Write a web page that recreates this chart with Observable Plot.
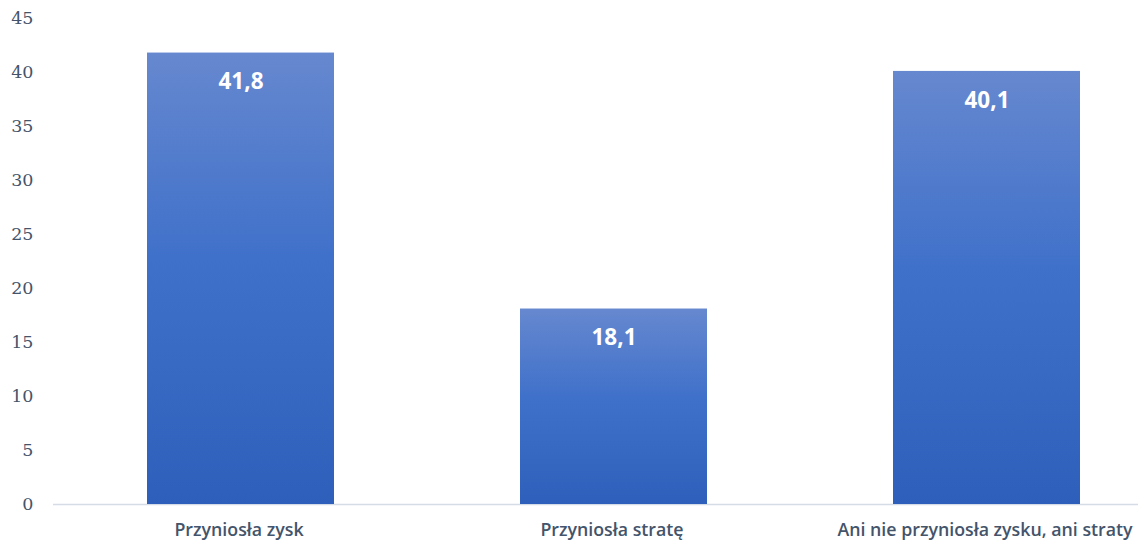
<!DOCTYPE html>
<html><head><meta charset="utf-8">
<script src="https://cdn.jsdelivr.net/npm/d3@7"></script>
<script src="https://cdn.jsdelivr.net/npm/@observablehq/plot@0.6"></script>
<style>
html,body{margin:0;padding:0;background:#fff;overflow:hidden;}
#chart{width:1138px;height:544px;overflow:hidden;}
</style></head>
<body><div id="chart"></div>
<script>
const categories = ["Przyniosła zysk", "Przyniosła stratę", "Ani nie przyniosła zysku, ani straty"];
const values = [41.8, 18.1, 40.1];
const labels = ["41,8", "18,1", "40,1"];
const yTicks = [0, 5, 10, 15, 20, 25, 30, 35, 40, 45];

const data = categories.map((c, i) => ({cat: c, value: values[i], label: labels[i]}));

const chart = Plot.plot({
  width: 1138,
  height: 544,
  marginTop: 18,
  marginBottom: 40,
  marginLeft: 53,
  marginRight: 0,
  style: {background: "#fff", overflow: "hidden"},
  x: {domain: categories, range: [53.75, 1172.75], paddingInner: 0.5, paddingOuter: 0.25, align: 0.5, label: null},
  y: {domain: [0, 45], label: null},
  marks: [
    Plot.axisY({ticks: yTicks, tickSize: 0, tickPadding: 20, fontSize: 17.5, fill: "#44546a", label: null,
      fontFamily: "'DejaVu Serif', serif", tickFormat: d => String(d)}),
    Plot.axisX({tickSize: 0, tickPadding: 19, fontSize: 17.8, fill: "#44546a", fontWeight: 600,
      fontFamily: "'Open Sans', sans-serif", label: null, dx: -2}),
    Plot.ruleY([0], {stroke: "#d6dce5", strokeWidth: 1.3}),
    Plot.barY(data, {x: "cat", y: "value", fill: "url(#barGrad)"}),
    Plot.text(data, {x: "cat", y: "value", text: "label", dy: 29, fill: "#fff", fontSize: 22.5,
      fontWeight: 700, fontFamily: "'Open Sans', sans-serif"})
  ]
});

const svg = d3.select(chart);
const defs = svg.insert("defs", ":first-child");
const g = defs.append("linearGradient").attr("id", "barGrad").attr("x1", 0).attr("y1", 0).attr("x2", 0).attr("y2", 1);
g.append("stop").attr("offset", "0%").attr("stop-color", "#6688cf");
g.append("stop").attr("offset", "45%").attr("stop-color", "#4071ca");
g.append("stop").attr("offset", "100%").attr("stop-color", "#2e5fba");

document.getElementById("chart").appendChild(chart);
</script>
</body></html>
